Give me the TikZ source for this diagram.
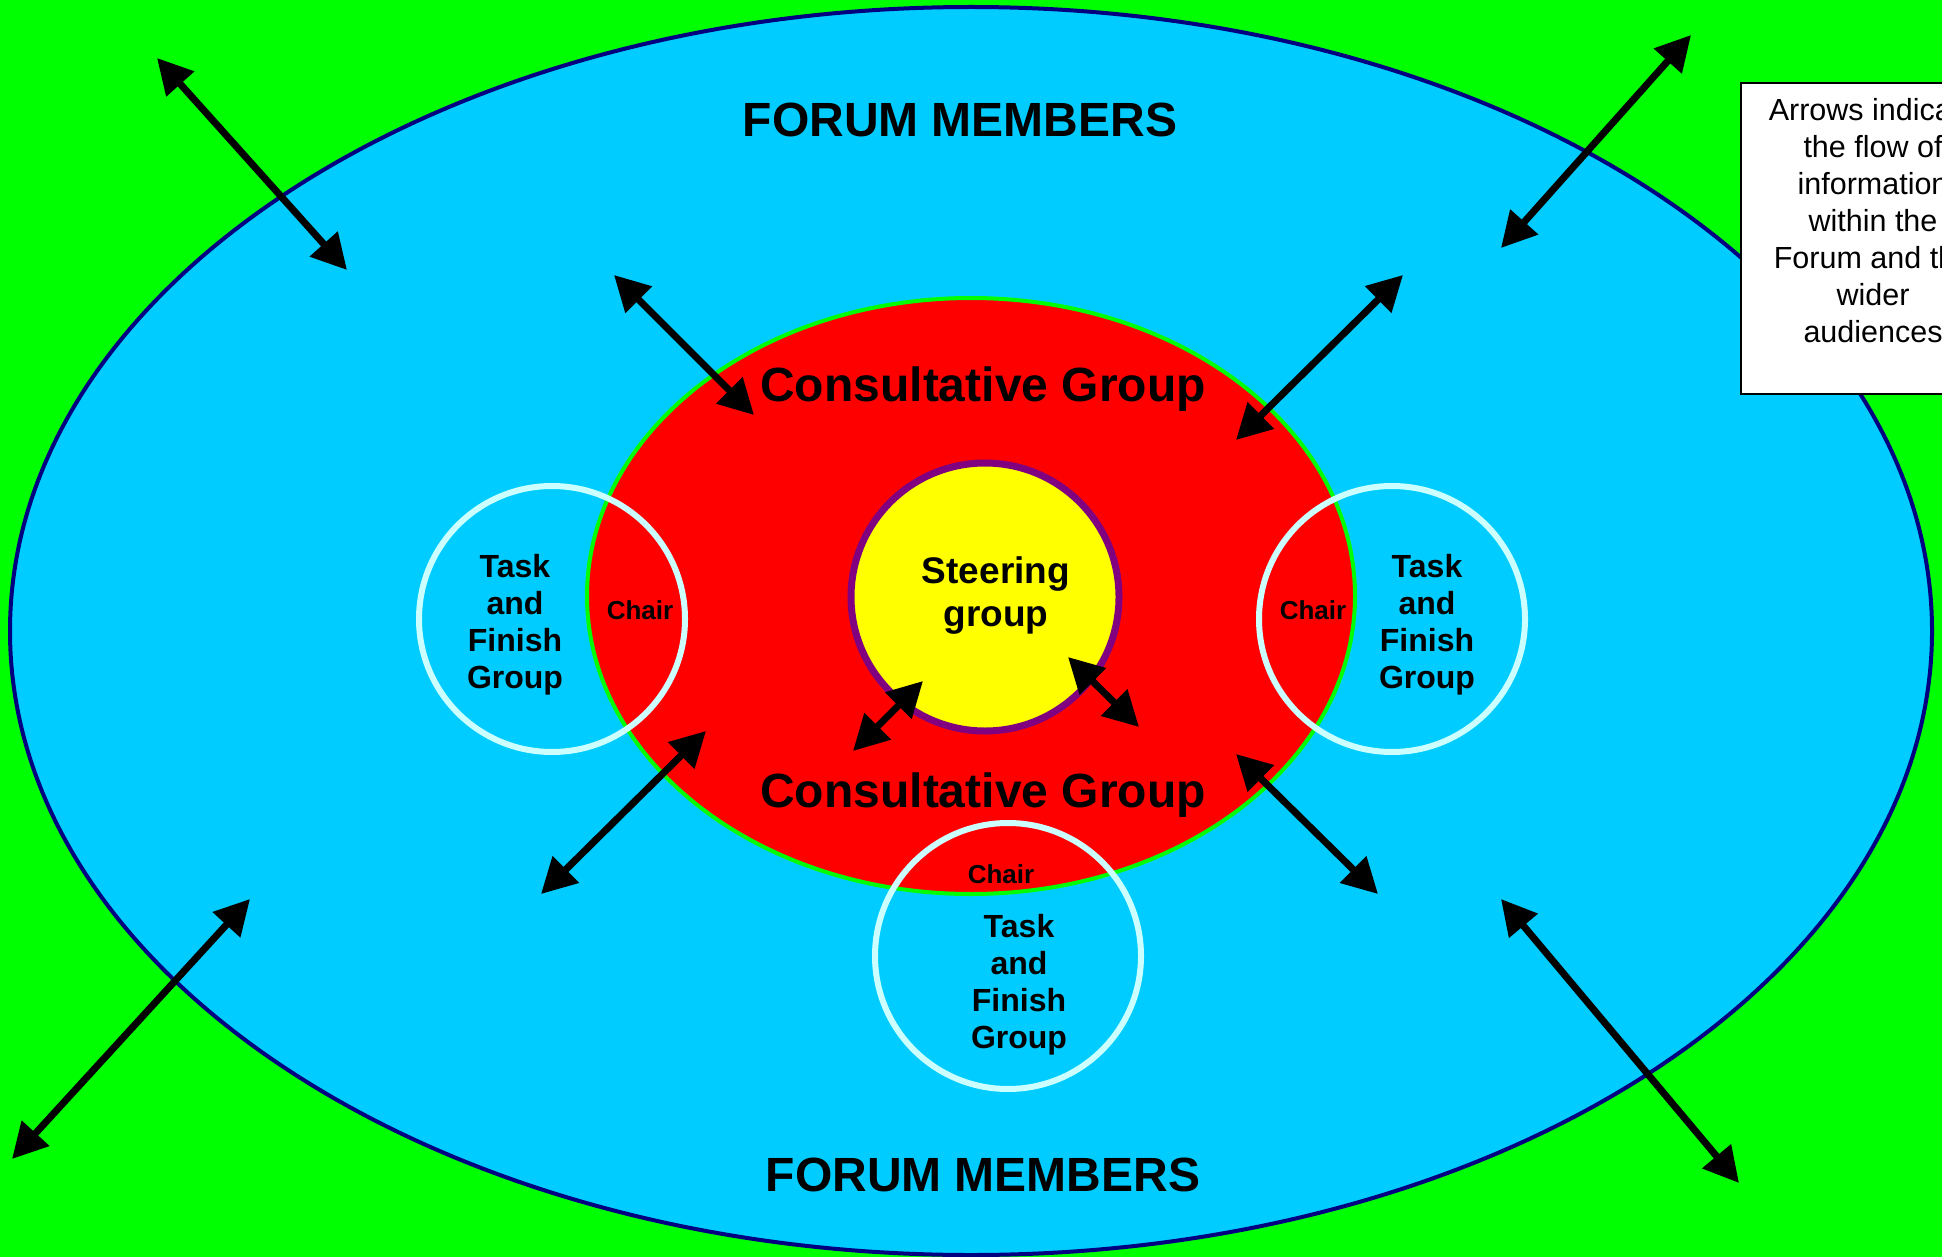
\documentclass[tikz,border=0pt]{standalone}
\usepackage{fontspec}
\setmainfont{Liberation Sans}
\usetikzlibrary{shapes.geometric,arrows.meta}
\definecolor{bggreen}{HTML}{00FF00}
\definecolor{forumblue}{HTML}{00CCFF}
\definecolor{navyline}{HTML}{000080}
\definecolor{consred}{HTML}{FF0000}
\definecolor{steeryellow}{HTML}{FFFF00}
\definecolor{steerpurple}{HTML}{800080}
\definecolor{taskline}{HTML}{CCFFFF}
\tikzset{
  flow/.style={line width=7pt, {Triangle[length=35pt,width=36pt]}-{Triangle[length=35pt,width=36pt]}},
  bigtitle/.style={font=\fontsize{48}{52}\selectfont\bfseries, inner sep=0pt},
  taskcircle/.style={circle, draw=taskline, line width=6pt, minimum size=266pt, inner sep=0pt},
  tasktext/.style={font=\fontsize{32}{37}\selectfont\bfseries, align=center, inner sep=0pt},
  chairtext/.style={font=\fontsize{26}{30}\selectfont\bfseries, inner sep=0pt},
}
\begin{document}
\begin{tikzpicture}[x=1pt,y=-1pt]
\path[use as bounding box] (0,0) rectangle (1942,1257);
\clip (0,0) rectangle (1942,1257);
\fill[bggreen] (0,0) rectangle (1942,1257);
% ellipses
\node[ellipse, fill=forumblue, draw=navyline, line width=4pt, minimum width=1922pt, minimum height=1248pt, inner sep=0pt] (forum) at (971,631) {};
\node[ellipse, fill=consred, draw=bggreen, line width=4pt, minimum width=768pt, minimum height=596pt, inner sep=0pt] (cons) at (971,596) {};
\node[circle, fill=steeryellow, draw=steerpurple, line width=7pt, minimum size=268pt, inner sep=0pt] (steer) at (985,597) {};
% task and finish circles
\node[taskcircle] (tfl) at (552,619) {};
\node[taskcircle] (tfr) at (1392,619) {};
\node[taskcircle] (tfb) at (1008,956) {};
% texts
\node[bigtitle] (fmtop) at (960,120) {FORUM MEMBERS};
\node[bigtitle] (fmbot) at (983,1175) {FORUM MEMBERS};
\node[bigtitle] (cgtop) at (983,389) {Consultative Group};
\node[bigtitle] (cgbot) at (983,795) {Consultative Group};
\node[font=\fontsize{37}{43}\selectfont\bfseries, align=center, inner sep=0pt] (steertxt) at (996,596) {Steering\\group};
\node[tasktext] (tftl) at (515,625) {Task\\and\\Finish\\Group};
\node[tasktext] (tftr) at (1427,625) {Task\\and\\Finish\\Group};
\node[tasktext] (tftb) at (1019,985) {Task\\and\\Finish\\Group};
\node[chairtext] (chl) at (640,610) {Chair};
\node[chairtext] (chr) at (1313,610) {Chair};
\node[chairtext] (chb) at (1001,874) {Chair};
% arrow ends
\coordinate (a1s) at (157,58);   \coordinate (a1e) at (347,270);
\coordinate (a2s) at (1691,35);  \coordinate (a2e) at (1501,248);
\coordinate (a3s) at (614,275);  \coordinate (a3e) at (754,415);
\coordinate (a4s) at (1403,275); \coordinate (a4e) at (1236,440);
\coordinate (a5s) at (706,731);  \coordinate (a5e) at (541,894);
\coordinate (a6s) at (1236,754); \coordinate (a6e) at (1378,894);
\coordinate (a7s) at (250,899);  \coordinate (a7e) at (12,1159);
\coordinate (a8s) at (1501,899); \coordinate (a8e) at (1739,1183);
\coordinate (a9s) at (923,681);  \coordinate (a9e) at (853,751);
\coordinate (a10s) at (1068,657); \coordinate (a10e) at (1139,727);
\foreach \i in {1,...,10} {\draw[flow] (a\i s) -- (a\i e);}
% legend box
\node[draw=black, fill=white, line width=2pt, anchor=north west, minimum width=270pt, minimum height=311pt, inner sep=0pt] (legend) at (1740,82) {};
\node[font=\fontsize{30.5}{37}\selectfont, align=center, inner sep=0pt, anchor=north] (legendtxt) at (1873,98) {Arrows indicate\\the flow of\\information\\within the\\Forum and the\\wider\\audiences};
\end{tikzpicture}
\end{document}
